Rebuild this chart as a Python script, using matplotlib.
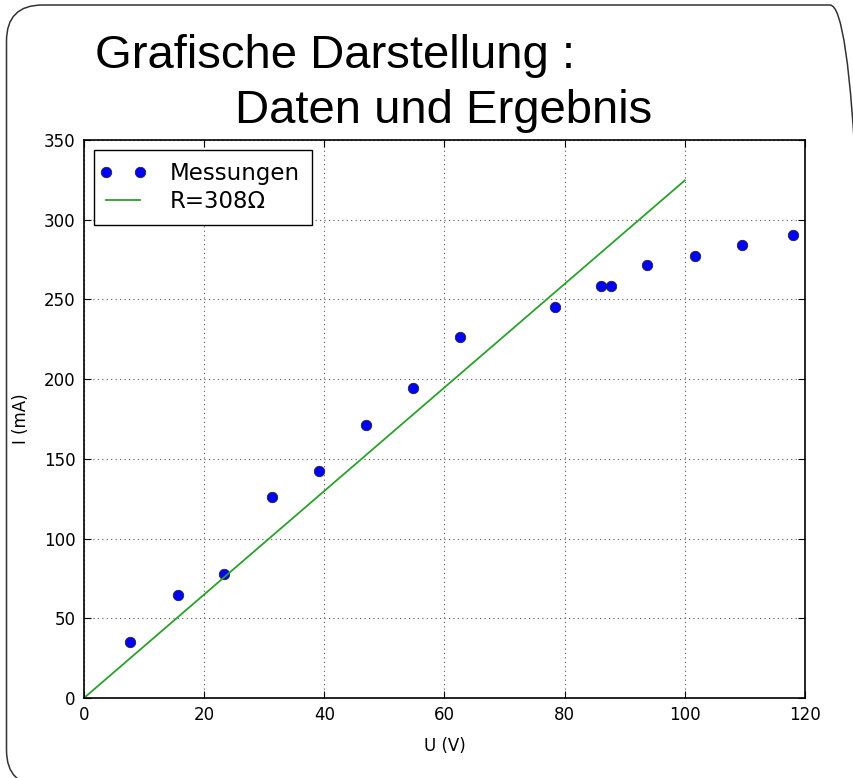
import numpy as np
import matplotlib
matplotlib.use("Agg")
import matplotlib.pyplot as plt
from matplotlib.patches import FancyBboxPatch
from matplotlib.transforms import IdentityTransform
from matplotlib.legend_handler import HandlerLine2D

# Data
U_V = [7.7, 15.6, 23.3, 31.3, 39.1, 46.9, 54.8, 62.6, 78.4, 86.1, 87.7, 93.7, 101.7, 109.5, 118.0]
I_mA = [35.1, 64.6, 77.8, 126.0, 142.4, 171.3, 194.5, 226.5, 245.3, 258.5, 258.5, 271.6, 277.3, 284.2, 290.5]
R_ohm = 308
fit_U = [0, 100]
fit_I = [u / R_ohm * 1000 for u in fit_U]

W, H = 854, 778
fig = plt.figure(figsize=(W / 100, H / 100), dpi=100)

# slide frame (display pixel coordinates, origin bottom-left)
frame = FancyBboxPatch((6.5, -8), 866 - 6.5, (H - 5) + 8,
                       boxstyle="round,pad=0,rounding_size=36",
                       transform=IdentityTransform(), fill=False, edgecolor="#333333",
                       linewidth=1.1)
fig.patches.append(frame)

fig.text(95 / W, 1 - 68 / H, "Grafische Darstellung :", fontsize=34,
         family="Liberation Sans", ha="left", va="baseline")
fig.text(235 / W, 1 - 123 / H, "Daten und Ergebnis", fontsize=34,
         family="Liberation Sans", ha="left", va="baseline")

ax = fig.add_axes([84 / W, 1 - 698 / H, (805 - 84) / W, (698 - 140) / H])
pts, = ax.plot(U_V, I_mA, "o", color="blue", markersize=7.5, markeredgecolor="#222222",
               markeredgewidth=0.6, label="Messungen")
fit, = ax.plot(fit_U, fit_I, "-", color="#2ca02c", linewidth=1.3, label="R=%d\u03a9" % R_ohm)
ax.set_xlim(0, 120)
ax.set_ylim(0, 350)
ax.set_xticks(range(0, 121, 20))
ax.set_yticks(range(0, 351, 50))
ax.grid(True, linestyle=(0, (1, 3)), color="#555555", linewidth=0.8)
ax.tick_params(direction="in", length=5, labelsize=12, top=True, right=True, pad=6)
for s in ax.spines.values():
    s.set_linewidth(1.2)
ax.set_xlabel("U (V)", fontsize=12, labelpad=9)
ax.set_ylabel("I (mA)", fontsize=12, labelpad=10)
leg = ax.legend(loc="upper left", numpoints=2, fontsize=16.5, fancybox=False,
                edgecolor="black", framealpha=1, borderaxespad=0.45,
                handlelength=1.5, handletextpad=1.3, borderpad=0.5,
                labelspacing=0.25,
                handler_map={pts: HandlerLine2D(marker_pad=0, numpoints=2),
                             fit: HandlerLine2D(marker_pad=0)})
leg.get_frame().set_linewidth(1.0)

fig.savefig("out.png", dpi=100)
